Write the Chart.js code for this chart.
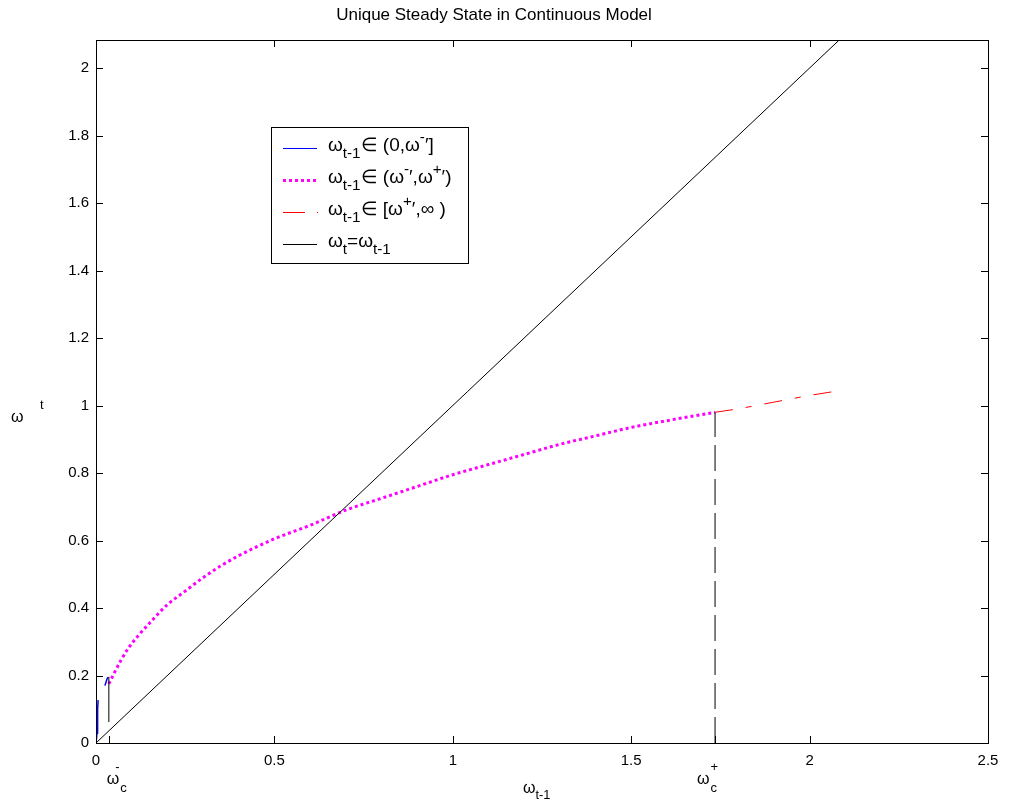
<!DOCTYPE html>
<html>
<head>
<meta charset="utf-8">
<script src="https://cdn.jsdelivr.net/npm/chart.js@4.4.0/dist/chart.umd.min.js"></script>
<style>
html, body { margin: 0; padding: 0; background: #fff; }
#wrap { width: 1009px; height: 809px; }
</style>
</head>
<body>
<div id="wrap"><canvas id="grafico"></canvas></div>
<script>
var FUENTE = '"Liberation Sans", Arial, sans-serif';

// ticks
var xTicks = [0, 0.5, 1, 1.5, 2, 2.5];
var yTicks = [0, 0.2, 0.4, 0.6, 0.8, 1, 1.2, 1.4, 1.6, 1.8, 2];

// omega_c- y omega_c+
var omegaMenos = 0.036;
var omegaMas = 1.735;

// tramo azul (0, w-')  (null = corte)
var azulX = [0, 0.003, 0.004, 0.005, 0.006, null, 0.025, 0.028, 0.031, 0.034];
var azulY = [0, 0.03, 0.07, 0.1, 0.127, null, 0.17, 0.18, 0.19, 0.195];

// tramo magenta (w-', w+')
var magentaX = [0.036, 0.05, 0.07, 0.09, 0.12, 0.15, 0.2, 0.25, 0.3, 0.35, 0.4, 0.5, 0.6, 0.7, 0.8, 0.9, 1.0, 1.1, 1.2, 1.3, 1.4, 1.5, 1.6, 1.735];
var magentaY = [0.175, 0.205, 0.245, 0.28, 0.32, 0.355, 0.41, 0.45, 0.49, 0.525, 0.555, 0.605, 0.645, 0.69, 0.725, 0.76, 0.795, 0.825, 0.855, 0.885, 0.91, 0.935, 0.955, 0.98];

// tramo rojo [w+', inf)
var rojoX = [1.735, 1.8, 1.9, 2.0, 2.09];
var rojoY = [0.98, 0.99, 1.01, 1.03, 1.045];

// recta w_t = w_t-1
var identidadX = [0, 2.083];
var identidadY = [0, 2.083];

// lineas verticales
var corteMenosX = [omegaMenos, omegaMenos];
var corteMenosY = [0.062, 0.196];
var corteMasX = [omegaMas, omegaMas];
var corteMasY = [0, 0.98];

function pares(xs, ys) {
    var out = [];
    for (var i = 0; i < xs.length; i++) {
        out.push({x: xs[i], y: ys[i]});
    }
    return out;
}

// texto con subindices / superindices
function textoRico(ctx, partes, x, y, tam) {
    var cx = x;
    for (var i = 0; i < partes.length; i++) {
        var t = partes[i][0], modo = partes[i][1];
        var s = tam, dy = 0;
        if (modo == 'b') { s = tam * 0.8; dy = tam * 0.4; }
        if (modo == 'p') { s = tam * 0.8; dy = -tam * 0.45; }
        ctx.font = s + 'px ' + FUENTE;
        ctx.fillText(t, cx, y + dy);
        cx += ctx.measureText(t).width;
    }
    return cx;
}

var filasLeyenda = [
    {color: '#0000ff', ancho: 1, dash: [], partes: [['ω','n'],['t-1','b'],['∈ (0,ω','n'],['-','p'],['′]','n']]},
    {color: '#ff00ff', ancho: 3, dash: [3, 3], partes: [['ω','n'],['t-1','b'],['∈ (ω','n'],['-','p'],['′,ω','n'],['+','p'],['′)','n']]},
    {color: '#ff0000', ancho: 1, dash: [22, 12, 2, 12], partes: [['ω','n'],['t-1','b'],['∈ [ω','n'],['+','p'],['′,∞ )','n']]},
    {color: '#000000', ancho: 1, dash: [], partes: [['ω','n'],['t','b'],['=ω','n'],['t-1','b']]}
];

var decoraciones = {
    id: 'decoraciones',
    afterDraw: function(chart) {
        var ctx = chart.ctx;
        var a = chart.chartArea;
        var sx = chart.scales.x, sy = chart.scales.y;
        ctx.save();
        ctx.strokeStyle = '#000';
        ctx.lineWidth = 1;
        ctx.setLineDash([]);
        // caja
        ctx.strokeRect(Math.round(a.left) + 0.5, Math.round(a.top) + 0.5,
            Math.round(a.right - a.left), Math.round(a.bottom - a.top));
        // ticks hacia dentro
        var L = 7;
        ctx.beginPath();
        xTicks.forEach(function(v) {
            var px = Math.round(sx.getPixelForValue(v)) + 0.5;
            ctx.moveTo(px, a.bottom); ctx.lineTo(px, a.bottom - L);
            ctx.moveTo(px, a.top); ctx.lineTo(px, a.top + L);
        });
        [omegaMenos, omegaMas].forEach(function(v) {
            var px = Math.round(sx.getPixelForValue(v)) + 0.5;
            ctx.moveTo(px, a.bottom); ctx.lineTo(px, a.bottom - L);
        });
        yTicks.forEach(function(v) {
            var py = Math.round(sy.getPixelForValue(v)) + 0.5;
            ctx.moveTo(a.left, py); ctx.lineTo(a.left + L, py);
            ctx.moveTo(a.right, py); ctx.lineTo(a.right - L, py);
        });
        ctx.stroke();

        // leyenda
        ctx.fillStyle = '#fff';
        ctx.fillRect(271, 127, 197, 136);
        ctx.strokeRect(271.5, 127.5, 197, 136);
        ctx.fillStyle = '#000';
        ctx.textBaseline = 'middle';
        ctx.textAlign = 'left';
        var filaY = [148, 180, 212, 244];
        filasLeyenda.forEach(function(f, i) {
            ctx.strokeStyle = f.color;
            ctx.lineWidth = f.ancho;
            ctx.setLineDash(f.dash);
            ctx.beginPath();
            ctx.moveTo(283, filaY[i] + 0.5);
            ctx.lineTo(f.color == '#ff0000' ? 318 : 317, filaY[i] + 0.5);
            ctx.stroke();
            ctx.fillStyle = '#000';
            textoRico(ctx, f.partes, 328, filaY[i] - 2, 19);
        });
        ctx.setLineDash([]);

        // etiquetas de ejes
        ctx.fillStyle = '#000';
        ctx.textBaseline = 'middle';
        ctx.font = '16px ' + FUENTE;
        ctx.fillText('ω', 11, 418);
        ctx.font = '13px ' + FUENTE;
        ctx.fillText('t', 40, 405);

        textoRico(ctx, [['ω','n'],['t-1','b']], 523, 789, 16);

        // omega_c- y omega_c+
        [[omegaMenos, '-'], [omegaMas, '+']].forEach(function(o) {
            var px = sx.getPixelForValue(o[0]);
            var x0 = (o[1] == '-') ? px - 2 : px - 18;
            ctx.font = '16px ' + FUENTE;
            ctx.fillText('ω', x0, 780);
            var w = ctx.measureText('ω').width;
            ctx.font = '13px ' + FUENTE;
            ctx.fillText('c', x0 + w + 1, 788);
            ctx.fillText(o[1], x0 + w - (o[1] == '-' ? 4 : -1), 767);
        });
        ctx.restore();
    }
};

new Chart(document.getElementById('grafico').getContext('2d'), {
    type: 'scatter',
    data: {
        datasets: [
            {data: pares(identidadX, identidadY), showLine: true, borderColor: '#000', borderWidth: 1, pointRadius: 0},
            {data: pares(corteMenosX, corteMenosY), showLine: true, borderColor: '#000', borderWidth: 1, pointRadius: 0},
            {data: pares(corteMasX, corteMasY), showLine: true, borderColor: '#000', borderWidth: 1, borderDash: [26, 8], pointRadius: 0},
            {data: pares(azulX, azulY), showLine: true, spanGaps: false, borderColor: '#0000ff', borderWidth: 1.5, pointRadius: 0},
            {data: pares(magentaX, magentaY), showLine: true, borderColor: '#ff00ff', borderWidth: 3, borderDash: [3, 3], pointRadius: 0, cubicInterpolationMode: 'monotone'},
            {data: pares(rojoX, rojoY), showLine: true, borderColor: '#ff0000', borderWidth: 1, borderDash: [18, 13, 6, 13], pointRadius: 0}
        ]
    },
    options: {
        responsive: true,
        maintainAspectRatio: false,
        animation: false,
        layout: {padding: {top: 0, right: 21, left: 0, bottom: 0}},
        plugins: {
            legend: {display: false},
            tooltip: {enabled: false},
            title: {
                display: true,
                text: 'Unique Steady State in Continuous Model',
                color: '#000',
                font: {family: FUENTE, size: 17, weight: 'normal', lineHeight: 1.2},
                padding: {top: 5, bottom: 14.6}
            }
        },
        scales: {
            x: {
                type: 'linear', min: 0, max: 2.5,
                afterBuildTicks: function(s) { s.ticks = xTicks.map(function(v) { return {value: v}; }); },
                afterFit: function(s) { s.height = 66; },
                grid: {display: false, drawTicks: false},
                border: {display: false},
                ticks: {color: '#000', padding: 9, maxRotation: 0, font: {family: FUENTE, size: 15},
                    callback: function(v) { return String(Math.round(v * 10) / 10); }}
            },
            y: {
                type: 'linear', min: 0, max: 2.083,
                afterBuildTicks: function(s) { s.ticks = yTicks.map(function(v) { return {value: v}; }); },
                afterFit: function(s) { s.width = 96; },
                grid: {display: false, drawTicks: false},
                border: {display: false},
                ticks: {color: '#000', padding: 7, font: {family: FUENTE, size: 15},
                    callback: function(v) { return String(Math.round(v * 10) / 10); }}
            }
        }
    },
    plugins: [decoraciones]
});
</script>
</body>
</html>
